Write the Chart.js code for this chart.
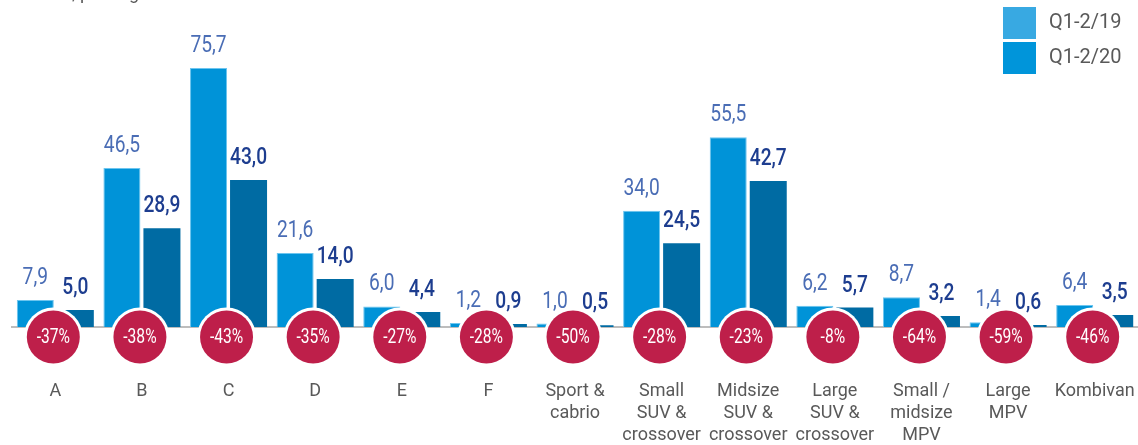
<!DOCTYPE html>
<html>
<head>
<meta charset="utf-8">
<script src="https://cdn.jsdelivr.net/npm/chart.js@4"></script>
<style>
  html, body { margin: 0; padding: 0; background: #fff; }
  #wrap { position: relative; width: 1138px; height: 445px; overflow: hidden; }
</style>
</head>
<body>
<div id="wrap"><canvas id="segChart"></canvas></div>
<script>
// ─── DATA ───────────────────────────────
const categories = [
  'A', 'B', 'C', 'D', 'E', 'F',
  ['Sport &', 'cabrio'],
  ['Small', 'SUV &', 'crossover'],
  ['Midsize', 'SUV &', 'crossover'],
  ['Large', 'SUV &', 'crossover'],
  ['Small /', 'midsize', 'MPV'],
  ['Large', 'MPV'],
  'Kombivan'
];
const h1_2019 = [7.9, 46.5, 75.7, 21.6, 6.0, 1.2, 1.0, 34.0, 55.5, 6.2, 8.7, 1.4, 6.4];
const h1_2020 = [5.0, 28.9, 43.0, 14.0, 4.4, 0.9, 0.5, 24.5, 42.7, 5.7, 3.2, 0.6, 3.5];
const changePct = [-37, -38, -43, -35, -27, -28, -50, -28, -23, -8, -64, -59, -46];
const seriesNames = ['Q1-2/19', 'Q1-2/20'];

// ─── STYLE ──────────────────────────────
const barCol    = ['#0093d8', '#006ba3'];
const legCol    = ['#38a9e2', '#0095da'];
const valCol    = ['#4a6db5', '#1d3d8f'];
const valWeight = ['400', '500'];
const badgeCol  = '#be1f4a';
const plain     = 'Roboto, "Liberation Sans", sans-serif';
const fmt = v => v.toFixed(1).replace('.', ',');

// condensed look: squeeze text horizontally around its anchor
function narrowText(ctx, txt, x, y, sx) {
  ctx.save();
  ctx.translate(x, y);
  ctx.scale(sx, 1);
  ctx.fillText(txt, 0, 0);
  ctx.restore();
}

// ─── OVERLAY PLUGIN ─────────────────────
const overlay = {
  id: 'overlay',
  afterDatasetsDraw(chart) {
    const ctx = chart.ctx;
    ctx.save();
    ctx.textAlign = 'center';
    ctx.textBaseline = 'alphabetic';
    chart.data.datasets.forEach((ds, di) => {
      ctx.fillStyle = valCol[di];
      ctx.font = valWeight[di] + ' 24px ' + plain;
      chart.getDatasetMeta(di).data.forEach((bar, i) => {
        narrowText(ctx, fmt(ds.data[i]), bar.x, bar.y - 16, 0.8);
      });
    });
    ctx.restore();
  },
  afterDraw(chart) {
    const ctx = chart.ctx;
    const x = chart.scales.x, y = chart.scales.y;
    const y0 = y.getPixelForValue(0) + 10;
    ctx.save();

    // percentage badges
    changePct.forEach((p, i) => {
      const cx = x.getPixelForValue(i) - 2;
      ctx.beginPath();
      ctx.arc(cx, y0, 29.5, 0, Math.PI * 2);
      ctx.fillStyle = '#fff';
      ctx.fill();
      ctx.beginPath();
      ctx.arc(cx, y0, 26.5, 0, Math.PI * 2);
      ctx.fillStyle = badgeCol;
      ctx.fill();
      ctx.fillStyle = '#fff';
      ctx.font = '400 20px ' + plain;
      ctx.textAlign = 'center';
      ctx.textBaseline = 'middle';
      narrowText(ctx, p + '%', cx, y0 + 1, 0.78);
    });

    // legend, top right
    ctx.textAlign = 'left';
    ctx.textBaseline = 'middle';
    ctx.font = '20px ' + plain;
    seriesNames.forEach((name, i) => {
      const top = 7 + i * 35;
      ctx.fillStyle = legCol[i];
      ctx.fillRect(1003, top, 33, 32);
      ctx.fillStyle = '#595959';
      ctx.fillText(name, 1049, top + 16);
    });

    // subtitle cut off by the top edge
    ctx.font = '18px ' + plain;
    ctx.fillStyle = '#595959';
    ctx.textBaseline = 'alphabetic';
    const head = 'Registrations in thousands';
    const w = ctx.measureText(head).width;
    ctx.fillText(head + ', per segment', 72 - w, -1);

    ctx.restore();
  }
};

// ─── CHART ──────────────────────────────
new Chart(document.getElementById('segChart').getContext('2d'), {
  type: 'bar',
  data: {
    labels: categories,
    datasets: [
      {
        label: seriesNames[0],
        data: h1_2019,
        backgroundColor: barCol[0],
        borderColor: '#6cc5ef',
        borderWidth: 1,
        categoryPercentage: 0.924,
        barPercentage: 0.925
      },
      {
        label: seriesNames[1],
        data: h1_2020,
        backgroundColor: barCol[1],
        borderWidth: 0,
        categoryPercentage: 0.924,
        barPercentage: 0.925
      }
    ]
  },
  options: {
    responsive: true,
    maintainAspectRatio: false,
    animation: false,
    layout: { padding: { left: 12, right: 0, top: 0, bottom: 0 } },
    plugins: {
      legend: { display: false },
      tooltip: { enabled: false }
    },
    scales: {
      x: {
        grid: { display: false, drawTicks: false },
        border: { display: true, color: '#bdbdbd', width: 2 },
        ticks: {
          color: '#595959',
          padding: 53,
          maxRotation: 0,
          autoSkip: false,
          font: { family: plain, size: 18, lineHeight: '22px' }
        },
        afterFit: s => {
          s.height = 118;
          s.paddingLeft = 0;
          s.paddingRight = 0;
        }
      },
      y: {
        display: false,
        min: 0,
        max: 95.6
      }
    }
  },
  plugins: [overlay]
});
</script>
</body>
</html>
